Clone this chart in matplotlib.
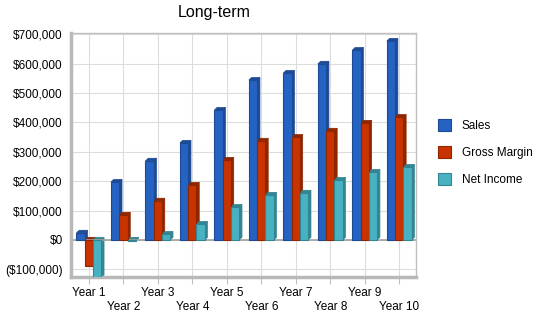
import matplotlib.pyplot as plt
from matplotlib.patches import Polygon

years = ['Year 1', 'Year 2', 'Year 3', 'Year 4', 'Year 5',
         'Year 6', 'Year 7', 'Year 8', 'Year 9', 'Year 10']
sales = [24000, 197000, 269000, 330000, 442000, 544000, 568000, 599000, 646000, 677000]
gross_margin = [-88000, 85000, 133000, 187000, 272000, 337000, 350000, 371000, 398000, 418000]
net_income = [-129000, -3000, 20000, 54000, 112000, 153000, 160000, 204000, 231000, 248000]

series = [
    ('Sales', sales, '#2563c2', '#1d4a94'),
    ('Gross Margin', gross_margin, '#c83300', '#8f2600'),
    ('Net Income', net_income, '#48b1c2', '#338591'),
]

plt.rcParams['font.family'] = ['Liberation Sans', 'DejaVu Sans']

fig = plt.figure(figsize=(5.5, 3.18), dpi=100)
ax = fig.add_axes([0.129, 0.129, 0.627, 0.767])

width = 0.24
dx, dy = 0.08, 9000
x = list(range(len(years)))

for i, (name, vals, face, dark) in enumerate(series):
    offs = [xi - 0.36 + i * width for xi in x]
    ax.bar(offs, vals, width=width, align='edge', color=face,
           edgecolor=dark, linewidth=0.8, label=name, zorder=3)
    for xo, v in zip(offs, vals):
        top = max(v, 0)
        # side face
        side = Polygon([(xo + width, top), (xo + width + dx, top + dy),
                        (xo + width + dx, min(v, 0) + dy), (xo + width, min(v, 0))],
                       closed=True, facecolor=dark, edgecolor=dark, lw=0.5, zorder=2)
        ax.add_patch(side)
        # top face
        topf = Polygon([(xo, top), (xo + dx, top + dy),
                        (xo + width + dx, top + dy), (xo + width, top)],
                       closed=True, facecolor=dark, edgecolor=dark, lw=0.5, zorder=2)
        ax.add_patch(topf)

ax.set_xlim(-0.52, 9.48)
ax.set_ylim(-126000, 704000)
ax.axhline(0, color='#a0a0a0', lw=1.2, zorder=2.5)

yt = list(range(-100000, 700001, 100000))
ax.set_yticks(yt)
ax.set_yticklabels([f'(${-v:,})' if v < 0 else f'${v:,}' for v in yt], fontsize=8.5)
ax.set_xticks(x)
ax.set_xticklabels([y if k % 2 == 0 else '\n' + y for k, y in enumerate(years)], fontsize=8.5)
ax.tick_params(axis='y', length=0, pad=6)
ax.tick_params(axis='x', length=5, color='#c0c0c0', pad=2.5)

ax.grid(color='#dcdcdc', lw=0.8, zorder=0)
ax.set_axisbelow(True)
for s in ['top', 'right']:
    ax.spines[s].set_color('#c0c0c0')
    ax.spines[s].set_linewidth(1)
for s in ['left', 'bottom']:
    ax.spines[s].set_color('#b8b8b8')
    ax.spines[s].set_linewidth(2.5)

fig.text(0.39, 0.96, 'Long-term', ha='center', va='center', fontsize=11.5)

ax.legend(loc='center left', bbox_to_anchor=(1.035, 0.51), frameon=False,
          fontsize=8.5, handlelength=1.1, handleheight=1.2, labelspacing=1.2,
          handletextpad=0.85)

plt.savefig('out.png', dpi=100)
plt.close()
